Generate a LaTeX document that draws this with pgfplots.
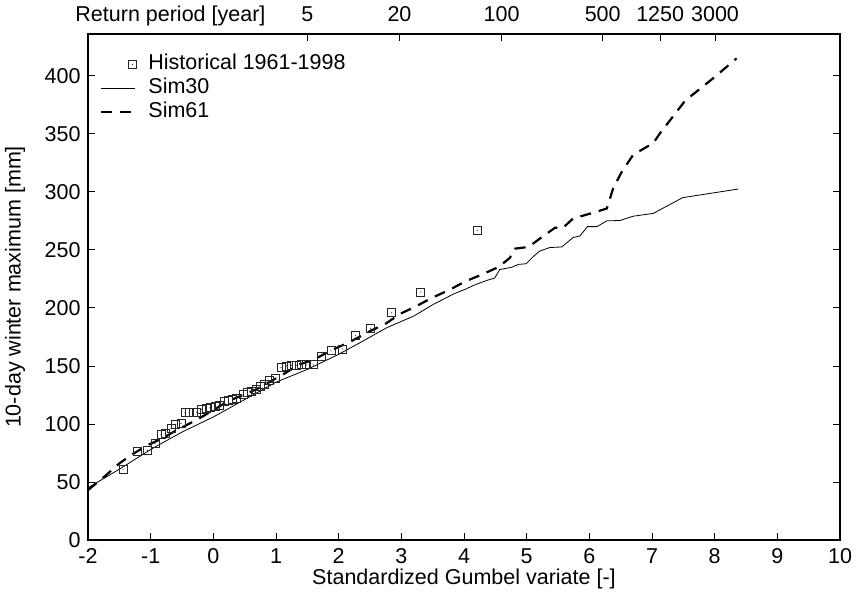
\documentclass[border=0pt]{standalone}
\usepackage{fontspec}
\setmainfont{Liberation Sans}
\usepackage{pgfplots}
\pgfplotsset{compat=1.18}
\pgfdeclareplotmark{sqdot}{%
  \pgfpathrectangle{\pgfpoint{-\pgfplotmarksize}{-\pgfplotmarksize}}{\pgfpoint{2\pgfplotmarksize}{2\pgfplotmarksize}}%
  \pgfusepathqstroke
  \pgfpathcircle{\pgfpointorigin}{0.6pt}%
  \pgfusepathqfill}
\pgfplotsset{
  legline/.style={legend image code/.code={\draw[##1] (0pt,0pt) -- (34pt,0pt); \path (44pt,0pt);}},
  legmark/.style={legend image code/.code={\draw[##1] plot coordinates {(31pt,0pt)}; \path (0pt,0pt) (44pt,0pt);}},
}
\newcommand{\ff}{\fontsize{21.5}{25}\selectfont}
\begin{document}
\begin{tikzpicture}
\path[use as bounding box] (-88pt,-56pt) rectangle (775pt,540pt);
\begin{axis}[name=main,
  scale only axis, width=752pt, height=506pt,
  xmin=-2, xmax=10, ymin=0, ymax=436,
  xtick={-2,-1,...,10}, ytick={0,50,...,400},
  xtick pos=left, ytick pos=both,
  tick align=inside, major tick length=7pt,
  axis line style={line width=1.1pt},
  tick style={line width=0.8pt, black},
  font=\ff,
  /pgf/number format/assume math mode=true,
  tick label style={font=\ff},
  xticklabel style={anchor=base, yshift=-23.5pt},
  yticklabel style={anchor=east, xshift=-4pt},
  xlabel={Standardized Gumbel variate [-]},
  ylabel={10-day winter maximum [mm]},
  xlabel style={at={(axis description cs:0.5,-0.077)}, anchor=center},
  ylabel style={at={(axis description cs:-0.097,0.5)}, anchor=center},
  legend style={draw=none, fill=none, at={(0.012,0.968)}, anchor=north west,
    font=\ff, row sep=0pt, legend cell align=left,
    nodes={text height=15pt, text depth=5pt, inner sep=2pt}},
]
\addplot[only marks, mark=sqdot, mark size=4pt, black!85, line width=0.8pt, legmark]
  coordinates {
(-1.44,60.6) (-1.21,76.5) (-1.05,77.3) (-0.93,83.1) (-0.835,90.9) (-0.76,91.8)
(-0.676,95.8) (-0.60,99.6) (-0.516,100.4) (-0.452,109.7) (-0.384,109.7) (-0.32,110.2)
(-0.266,110.2) (-0.187,112.6) (-0.118,113.2) (-0.053,114) (0.026,114.9) (0.09,116)
(0.175,119.7) (0.24,120.6) (0.31,121.2) (0.37,121.8) (0.478,125.5) (0.542,127)
(0.612,128.1) (0.68,129.9) (0.745,132.7) (0.813,134.2) (0.894,137.1) (0.984,139.1)
(1.08,148.7) (1.17,150) (1.25,150.6) (1.33,150.6) (1.41,150.9) (1.49,150.9)
(1.595,150.9) (1.728,158.2) (1.877,163) (2.058,164.5) (2.27,176) (2.51,182.4)
(2.84,195.7) (3.31,213.6) (4.21,266.9)
};
\addlegendentry{Historical 1961-1998}
\addplot[black, line width=0.8pt, legline]
  coordinates {
(-2,45) (-1.5,61) (-1,78) (-0.5,93) (0,106) (0.5,121) (1,136) (1.5,147) (2,160)
(2.34,170) (2.77,183) (3.2,193) (3.51,203) (3.83,211.9) (4.04,216.5) (4.15,219.3)
(4.36,223.6) (4.49,225.7) (4.57,233) (4.76,235) (4.87,237.5) (4.99,238) (5.11,244.4)
(5.21,249) (5.37,252) (5.56,252.5) (5.74,260.6) (5.85,262) (5.97,270) (6.12,270)
(6.28,275) (6.49,275.3) (6.70,279) (7.02,281.4) (7.49,295) (8.377,302.4)
};
\addlegendentry{Sim30}
\addplot[black, line width=2.2pt, dash pattern=on 11pt off 8pt, legline]
  coordinates {
(-2,43) (-1.73,55) (-1.5,66) (-1.3,73.6) (-1.06,81.4) (-0.8,88) (-0.585,94.6)
(-0.356,101) (-0.16,106.8) (0.24,119.7) (0.69,129.9) (1.12,142.9) (1.38,151.5)
(1.6,155.2) (1.86,163) (2.07,168) (2.29,173.8) (2.5,180) (2.74,186) (2.98,194.8)
(3.24,201.5) (3.48,208.4) (3.78,215.9) (4.02,222.8) (4.28,228.6) (4.55,235.2)
(4.73,243) (4.81,251) (5.03,252.5) (5.21,259.7) (5.45,269) (5.58,269) (5.74,277)
(6.12,282.9) (6.28,285.7) (6.38,303) (6.52,317.5) (6.70,331.9) (7.02,342)
(7.13,350.6) (7.53,378.6) (7.98,398) (8.35,415)
};
\addlegendentry{Sim61}
\end{axis}
\begin{axis}[
  scale only axis, width=752pt, height=506pt,
  xmin=-2, xmax=10, ymin=0, ymax=436,
  axis x line*=top, axis y line=none,
  xtick={1.4999,2.9702,4.6001,6.2136,7.1305,8.0061},
  xticklabels={5,20,100,500,1250,3000},
  tick align=inside, major tick length=7pt,
  tick style={line width=0.8pt, black},
  axis line style={line width=1.1pt},
  xticklabel style={font=\ff, anchor=base, yshift=12pt},
]
\end{axis}
\node[anchor=base east, font=\ff] at ([xshift=181pt, yshift=12pt]main.north west) {Return period [year]};
\end{tikzpicture}
\end{document}
